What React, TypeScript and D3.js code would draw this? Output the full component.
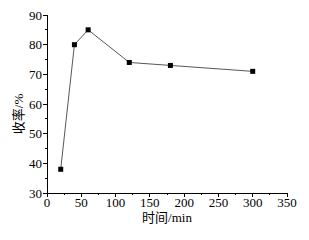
import React from 'react';
import * as d3 from 'd3';

const times = [20, 40, 60, 120, 180, 300];
const yields = [38, 80, 85, 74, 73, 71];
const xTicks = [0, 50, 100, 150, 200, 250, 300, 350];
const yTicks = [30, 40, 50, 60, 70, 80, 90];

const W = 309;
const H = 240;
const left = 47;
const right = 287;
const top = 15;
const bottom = 193;
const font = '"Liberation Serif", "Noto Sans CJK SC", serif';

export default function App() {
  const x = d3.scaleLinear().domain([0, 350]).range([left, right]);
  const y = d3.scaleLinear().domain([30, 90]).range([bottom, top]);
  const line = d3
    .line<number>()
    .x((d, i) => x(times[i]))
    .y(d => y(d));
  const xMinor = d3.range(25, 350, 50);
  const yMinor = d3.range(35, 90, 10);

  return (
    <svg width={W} height={H} style={{ position: 'absolute', left: 0, top: 0, background: '#fff' }}>
      <g stroke="#000" strokeWidth={1} shapeRendering="crispEdges">
        <line x1={left} x2={right} y1={bottom} y2={bottom} />
        <line x1={left} x2={left} y1={top} y2={bottom} />
        {xTicks.map(t => (
          <line key={'xt' + t} x1={x(t)} x2={x(t)} y1={bottom} y2={bottom + 4} />
        ))}
        {xMinor.map(t => (
          <line key={'xm' + t} x1={x(t)} x2={x(t)} y1={bottom} y2={bottom + 2} />
        ))}
        {yTicks.map(t => (
          <line key={'yt' + t} x1={left - 4} x2={left} y1={y(t)} y2={y(t)} />
        ))}
        {yMinor.map(t => (
          <line key={'ym' + t} x1={left - 2} x2={left} y1={y(t)} y2={y(t)} />
        ))}
      </g>
      <g fontFamily={font} fontSize={13} fill="#000">
        {xTicks.map(t => (
          <text key={'xl' + t} x={x(t)} y={bottom + 14} textAnchor="middle">
            {t}
          </text>
        ))}
        {yTicks.map(t => (
          <text key={'yl' + t} x={left - 5} y={y(t)} dy="0.35em" textAnchor="end">
            {t}
          </text>
        ))}
        <text x={(left + right) / 2} y={bottom + 29} textAnchor="middle">
          时间/min
        </text>
        <text transform="translate(23, 114) rotate(-90)" textAnchor="middle">
          收率/%
        </text>
      </g>
      <path d={line(yields) || ''} fill="none" stroke="#444" strokeWidth={0.9} />
      {yields.map((v, i) => (
        <rect key={i} x={x(times[i]) - 2.5} y={y(v) - 2.5} width={5} height={5} fill="#000" />
      ))}
    </svg>
  );
}
